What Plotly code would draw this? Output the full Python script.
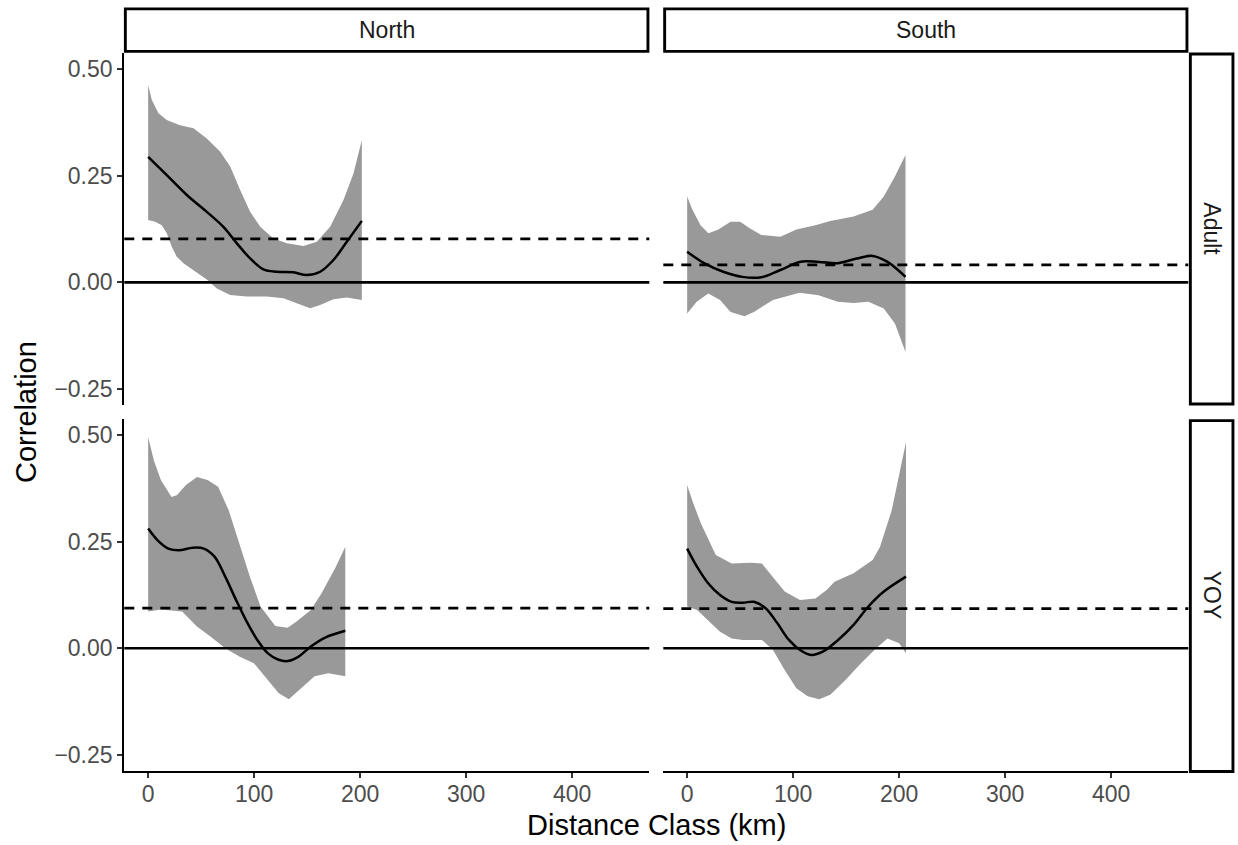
import plotly.graph_objects as go

# ---------------------------------------------------------------------------
# Mantel-type correlogram: smoothed correlation vs. distance class with
# bootstrap envelope, split by region (columns) and life stage (rows).
# ---------------------------------------------------------------------------

regions = ["North", "South"]
stages = ["Adult", "YOY"]

# North / Adult
na_fit_x = [0, 17.6, 36.5, 55.3, 71, 83.7, 96.2, 108.8, 121.4, 137, 149.7, 162.3, 174.8, 187.4, 201.6]
na_fit_y = [0.294, 0.251, 0.2045, 0.165, 0.130, 0.0915, 0.0563, 0.0306, 0.025, 0.0236, 0.0173, 0.025,
            0.0524, 0.0952, 0.144]
na_up_x = [0, 3.5, 9.7, 17.6, 30, 42.8, 55.3, 68, 77.4, 86.8, 96.2, 105.7, 118.2, 130.8, 146.5, 159.1,
           171.7, 184.3, 193.7, 201.6]
na_up_y = [0.462, 0.427, 0.396, 0.380, 0.368, 0.3605, 0.337, 0.306, 0.271, 0.216, 0.1655, 0.130, 0.103,
           0.0915, 0.085, 0.095, 0.130, 0.193, 0.255, 0.333]
na_lo_x = [0, 6.6, 12.9, 17.6, 22.3, 27, 33.3, 42.8, 55.3, 64.8, 77.4, 93, 112, 127.7, 140.3, 152.8,
           162.3, 174.8, 187.4, 201.6]
na_lo_y = [0.146, 0.142, 0.134, 0.115, 0.0835, 0.060, 0.0447, 0.029, 0.007, -0.014, -0.0295, -0.033,
           -0.033, -0.037, -0.049, -0.0606, -0.053, -0.0396, -0.035, -0.041]

# South / Adult
sa_fit_x = [0, 16, 34, 52, 70, 88, 106, 124, 142, 160, 175, 189, 206]
sa_fit_y = [0.072, 0.045, 0.025, 0.013, 0.012, 0.029, 0.048, 0.048, 0.045, 0.056, 0.062, 0.048, 0.013]
sa_up_x = [0, 5, 12.6, 20, 29, 41, 50, 59, 70, 88, 103, 121, 135, 157, 175, 185.5, 196, 206]
sa_up_y = [0.201, 0.170, 0.134, 0.115, 0.123, 0.142, 0.142, 0.127, 0.111, 0.107, 0.124, 0.134, 0.144,
           0.154, 0.170, 0.201, 0.248, 0.298]
sa_lo_x = [0, 9, 20, 31, 41, 54, 63, 81, 106, 124, 142, 157, 171, 185.5, 196, 206]
sa_lo_y = [-0.073, -0.045, -0.026, -0.041, -0.069, -0.079, -0.069, -0.041, -0.024, -0.030, -0.045,
           -0.048, -0.045, -0.061, -0.096, -0.1625]

# North / YOY
ny_fit_x = [0, 8.75, 19, 29, 42, 52.5, 62.6, 72.7, 83, 93, 103, 113, 123, 131.6, 142, 153.5, 167, 186]
ny_fit_y = [0.281, 0.254, 0.234, 0.230, 0.236, 0.234, 0.215, 0.168, 0.113, 0.0625, 0.0195, -0.012,
            -0.027, -0.030, -0.0195, 0.004, 0.025, 0.041]
ny_up_x = [0, 5.4, 12, 22, 27, 35.7, 46, 56, 66, 76, 86, 96, 106, 120, 131.6, 140, 153.5, 163.6, 177, 186]
ny_up_y = [0.496, 0.441, 0.395, 0.355, 0.359, 0.383, 0.402, 0.395, 0.379, 0.324, 0.246, 0.168, 0.098,
           0.052, 0.048, 0.0625, 0.090, 0.129, 0.191, 0.238]
ny_lo_x = [0, 12, 32, 46, 59, 72.7, 86, 99.7, 113, 123, 132.7, 143, 157, 170, 186]
ny_lo_y = [0.086, 0.091, 0.086, 0.051, 0.027, 0.0, -0.0195, -0.035, -0.074, -0.105, -0.120, -0.098,
           -0.066, -0.059, -0.066]

# South / YOY
sy_fit_x = [0, 9.4, 20, 31, 42, 52.5, 63, 74, 85, 96, 106.5, 117, 128, 142.4, 157, 171, 185.6, 206.5]
sy_fit_y = [0.234, 0.191, 0.152, 0.125, 0.109, 0.107, 0.109, 0.094, 0.059, 0.0195, -0.004, -0.0156,
            -0.008, 0.0195, 0.055, 0.098, 0.133, 0.168]
sy_up_x = [0, 5.8, 13, 20, 27, 42, 60, 70.5, 81, 92, 106.5, 121, 131.6, 139, 157, 175, 182, 193, 206.5]
sy_up_y = [0.383, 0.340, 0.293, 0.254, 0.219, 0.199, 0.201, 0.199, 0.168, 0.133, 0.113, 0.117, 0.137,
           0.156, 0.176, 0.207, 0.238, 0.324, 0.484]
sy_lo_x = [0, 9.4, 20, 31, 42, 52.5, 70.5, 81, 92, 103, 113.7, 124.5, 135, 149.6, 164, 178.4, 189, 200,
           206.5]
sy_lo_y = [0.098, 0.090, 0.066, 0.039, 0.023, 0.0195, 0.0195, -0.004, -0.051, -0.094, -0.113, -0.120,
           -0.109, -0.074, -0.035, 0.0, 0.023, 0.012, -0.012]

# Significance thresholds (dashed) per panel
thresholds = {"North-Adult": 0.102, "South-Adult": 0.041, "North-YOY": 0.094, "South-YOY": 0.093}

x_ticks = [0, 100, 200, 300, 400]
y_ticks = [-0.25, 0.0, 0.25, 0.50]
y_tick_text = ["\u22120.25", "0.00", "0.25", "0.50"]

panels = [
    ("North", "Adult", "x", "y", na_fit_x, na_fit_y, na_up_x, na_up_y, na_lo_x, na_lo_y),
    ("South", "Adult", "x2", "y2", sa_fit_x, sa_fit_y, sa_up_x, sa_up_y, sa_lo_x, sa_lo_y),
    ("North", "YOY", "x3", "y3", ny_fit_x, ny_fit_y, ny_up_x, ny_up_y, ny_lo_x, ny_lo_y),
    ("South", "YOY", "x4", "y4", sy_fit_x, sy_fit_y, sy_up_x, sy_up_y, sy_lo_x, sy_lo_y),
]

# ---------------------------------------------------------------------------
W, H = 1238, 845


def fx(p):
    return p / W


def fy(p):
    return 1 - p / H


col_dom = [[fx(124.3), fx(649.3)], [fx(663.3), fx(1188.3)]]
row_dom = [[fy(405.3), fy(52.7)], [fy(770.7), fy(419.3)]]
x_range = [-22.5, 472.8]
y_range = [-0.2875, 0.5375]

FONT = "Liberation Sans, Arial, Helvetica, sans-serif"
RIBBON = "#999999"

fig = go.Figure()

for reg, stg, xa, ya, fxs, fys, uxs, uys, lxs, lys in panels:
    poly_x = list(uxs) + list(reversed(lxs))
    poly_y = list(uys) + list(reversed(lys))
    fig.add_trace(go.Scatter(x=poly_x, y=poly_y, xaxis=xa, yaxis=ya, mode="lines",
                             fill="toself", fillcolor=RIBBON, line=dict(width=0, color=RIBBON),
                             hoverinfo="skip", showlegend=False))
    fig.add_trace(go.Scatter(x=fxs, y=fys, xaxis=xa, yaxis=ya, mode="lines",
                             line=dict(color="black", width=2.5, shape="spline", smoothing=1.0),
                             showlegend=False, name=f"{reg} {stg}"))

axis_common = dict(showgrid=False, zeroline=False, fixedrange=True)
tick_style = dict(showline=True, linecolor="black", linewidth=2.2, ticks="outside", ticklen=5,
                  tickwidth=2.2, tickcolor="#333333",
                  tickfont=dict(family=FONT, size=23, color="#4D4D4D"))

layout_axes = {}
for i, (reg, stg, xa, ya, *_rest) in enumerate(panels):
    r, c = divmod(i, 2)
    xname = "xaxis" if i == 0 else f"xaxis{i + 1}"
    yname = "yaxis" if i == 0 else f"yaxis{i + 1}"
    xd = dict(domain=col_dom[c], anchor=ya, range=x_range, **axis_common)
    yd = dict(domain=row_dom[r], anchor=xa, range=y_range, **axis_common)
    if r == 1:
        xd.update(tick_style, tickvals=x_ticks, ticktext=[str(v) for v in x_ticks],
                  ticklabelstandoff=-3)
    else:
        xd.update(visible=False)
    if c == 0:
        yd.update(tick_style, tickvals=y_ticks, ticktext=y_tick_text)
    else:
        yd.update(visible=False)
    layout_axes[xname] = xd
    layout_axes[yname] = yd

shapes = []
for reg, stg, xa, ya, *_rest in panels:
    xd_ref = f"{xa} domain"
    shapes.append(dict(type="line", xref=xd_ref, yref=ya, x0=0, x1=1, y0=0, y1=0,
                       line=dict(color="black", width=2.6), layer="above"))
    thr = thresholds[f"{reg}-{stg}"]
    shapes.append(dict(type="line", xref=xd_ref, yref=ya, x0=0, x1=1, y0=thr, y1=thr,
                       line=dict(color="black", width=2.7, dash="10px,8px"), layer="above"))

# Facet strips
strip_line = dict(color="black", width=2.9)
for c, reg in enumerate(regions):
    x0, x1 = (125.35, 647.95) if c == 0 else (664.65, 1186.95)
    shapes.append(dict(type="rect", xref="paper", yref="paper", x0=fx(x0), x1=fx(x1),
                       y0=fy(51.35), y1=fy(8.85), line=strip_line, fillcolor="white"))
for r, stg in enumerate(stages):
    y0, y1 = (54.05, 403.95) if r == 0 else (420.65, 771.5)
    shapes.append(dict(type="rect", xref="paper", yref="paper", x0=fx(1190.35), x1=fx(1232.95),
                       y0=fy(y1), y1=fy(y0), line=strip_line, fillcolor="white"))

annotations = []
strip_font = dict(family=FONT, size=23, color="#1A1A1A")
for c, reg in enumerate(regions):
    cx = (124.3 + 649.3) / 2 if c == 0 else (663.3 + 1188.3) / 2
    annotations.append(dict(text=reg, xref="paper", yref="paper", x=fx(cx), y=fy(30.1),
                            xanchor="center", yanchor="middle", showarrow=False, font=strip_font))
for r, stg in enumerate(stages):
    cy = (52.7 + 405.3) / 2 if r == 0 else (419.3 + 771.5) / 2
    annotations.append(dict(text=stg, xref="paper", yref="paper", x=fx(1211.7), y=fy(cy),
                            xanchor="center", yanchor="middle", showarrow=False, textangle=90,
                            font=strip_font))

title_font = dict(family=FONT, size=29, color="black")
annotations.append(dict(text="Distance Class (km)", xref="paper", yref="paper", x=fx(656.3),
                        y=fy(824.5), xanchor="center", yanchor="middle", showarrow=False,
                        font=title_font))
annotations.append(dict(text="Correlation", xref="paper", yref="paper", x=fx(26), y=fy(412),
                        xanchor="center", yanchor="middle", showarrow=False, textangle=-90,
                        font=title_font))

fig.update_layout(
    width=W, height=H,
    margin=dict(l=0, r=0, t=0, b=0, pad=0),
    paper_bgcolor="white", plot_bgcolor="white",
    shapes=shapes, annotations=annotations,
    showlegend=False,
    **layout_axes,
)

fig.write_html("out.html")
